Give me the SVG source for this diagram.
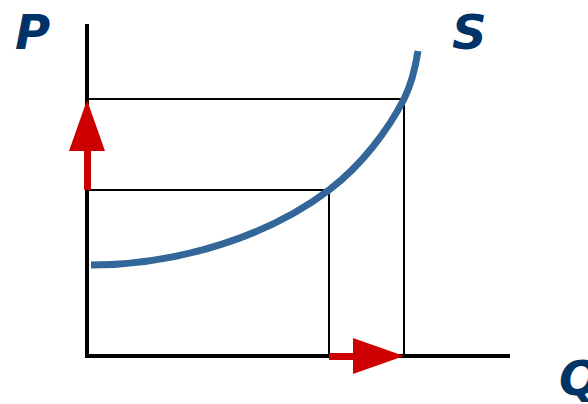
<svg xmlns="http://www.w3.org/2000/svg" width="588" height="404" viewBox="0 0 588 404">
<style>
.lbl{font-family:"DejaVu Sans",sans-serif;font-weight:bold;font-style:italic;font-size:48px;fill:#003366}
.thin{stroke:#000;stroke-width:2;fill:none}
.axis{stroke:#000;stroke-width:4;fill:none}
.red{fill:#cc0000}
</style>
<rect width="588" height="404" fill="#fff"/>
<g id="guides">
<polyline class="thin" points="87,99 404,99 404,356"/>
<polyline class="thin" points="87,190 329,190 329,356"/>
</g>
<g id="axes">
<line class="axis" x1="87" y1="24" x2="87" y2="358"/>
<line class="axis" x1="85" y1="356" x2="510" y2="356"/>
</g>
<g id="curve-S">
<path d="M91,265 C180,265 270,235 329,190 C362,165 388,130 404,99 C411,85 415,70 418,51" stroke="#336699" stroke-width="7" fill="none"/>
</g>
<g id="connectors">
<rect class="red" x="84" y="148" width="7" height="42"/>
<polygon class="red" points="87,100 69,151 105,151"/>
<rect class="red" x="329" y="353" width="26" height="7"/>
<polygon class="red" points="404,356 353,338 353,374"/>
</g>
<g id="labels">
<text class="lbl" x="15" y="49">P</text>
<text class="lbl" x="452" y="49">S</text>
<text class="lbl" x="559" y="395">Q</text>
</g>
</svg>
